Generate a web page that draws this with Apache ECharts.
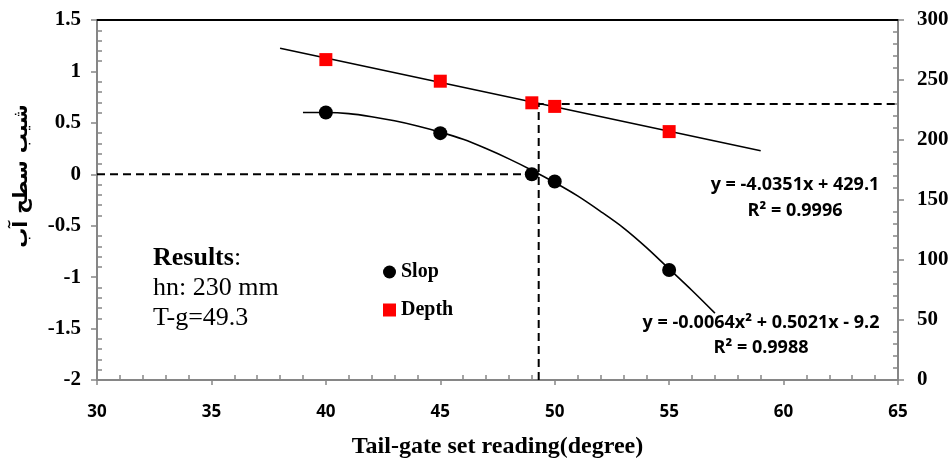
<!DOCTYPE html>
<html><head><meta charset="utf-8">
<script src="https://cdn.jsdelivr.net/npm/echarts@6/dist/echarts.min.js"></script>
<style>html,body{margin:0;padding:0;background:#fff}#c{width:952px;height:460px}</style>
</head><body><div id="c"></div>
<script>
// ---- data ----
const xVals = [40, 45, 49, 50, 55];
const slopVals = [0.6, 0.4, 0, -0.07, -0.93];
const depthVals = [267, 249, 231, 228, 207];
const slopFitX = [39, 40, 41, 42, 43, 44, 45, 46, 47, 48, 49, 50, 51, 52, 53, 54, 55, 56, 57];
const slopFitY = [0.6, 0.6, 0.59, 0.56, 0.52, 0.47, 0.41, 0.34, 0.25, 0.15, 0.04, -0.08, -0.21, -0.36, -0.52, -0.71, -0.92, -1.13, -1.35];
const depthFitX = [38, 59];
const depthFitY = [276.5, 191];
const refX = 49.3, refSlope = 0, refDepth = 230;
const xTicks = {min: 30, max: 65, interval: 5};
const slopTicks = {min: -2, max: 1.5, interval: 0.5};
const depthTicks = {min: 0, max: 300, interval: 50};
const eqDepth = ['y = -4.0351x + 429.1', 'R² = 0.9996'];
const eqSlop = ['y = -0.0064x² + 0.5021x - 9.2', 'R² = 0.9988'];

const zip = (a, b) => a.map((v, i) => [v, b[i]]);
const gray = '#868686';
const serif = '"Liberation Serif","Times New Roman",serif';
const sans = '"Open Sans",sans-serif';
const eqFont = 'bold 18px "Open Sans"';

const chart = echarts.init(document.getElementById('c'));
const dashed = {color: '#000', width: 2, type: [8, 5]};
chart.setOption({
  animation: false,
  grid: {left: 97, right: 54, top: 20, bottom: 80, containLabel: false, outerBoundsMode: 'none'},
  legend: {
    orient: 'vertical', left: 378, top: 257, itemWidth: 13, itemHeight: 13, itemGap: 18,
    data: ['Slop', 'Depth'],
    textStyle: {fontFamily: serif, fontWeight: 'bold', fontSize: 20, color: '#000'}
  },
  xAxis: [
    {type: 'value', min: xTicks.min, max: xTicks.max, interval: xTicks.interval, position: 'bottom',
     axisLine: {onZero: false, lineStyle: {color: gray, width: 2}},
     axisTick: {show: true, length: 5, lineStyle: {color: gray, width: 1.5}},
     axisLabel: {margin: 24, fontFamily: sans, fontWeight: 'bold', fontSize: 17, color: '#000'},
     splitLine: {show: false},
     name: 'Tail-gate set reading(degree)', nameLocation: 'middle', nameGap: 55,
     nameTextStyle: {fontFamily: serif, fontWeight: 'bold', fontSize: 24, color: '#000'}},
    {type: 'value', min: xTicks.min, max: xTicks.max, interval: xTicks.interval, position: 'bottom',
     axisLine: {show: false, onZero: false}, axisLabel: {show: false},
     axisTick: {show: false, inside: true},
     minorTick: {show: true, splitNumber: 5, length: 5, lineStyle: {color: gray, width: 1.5}},
     splitLine: {show: false}},
    {type: 'value', min: xTicks.min, max: xTicks.max, interval: xTicks.interval, position: 'top',
     axisLine: {show: true, onZero: false, lineStyle: {color: '#000', width: 2}},
     axisLabel: {show: false}, axisTick: {show: false}, splitLine: {show: false}}
  ],
  yAxis: [
    {type: 'value', min: slopTicks.min, max: slopTicks.max, interval: slopTicks.interval, position: 'left',
     axisLine: {show: true, onZero: false, lineStyle: {color: gray, width: 2}},
     axisTick: {show: true, length: 6, lineStyle: {color: gray, width: 1.5}},
     axisLabel: {margin: 16, fontFamily: serif, fontWeight: 'bold', fontSize: 21, color: '#000'},
     splitLine: {show: false}},
    {type: 'value', min: slopTicks.min, max: slopTicks.max, interval: slopTicks.interval, position: 'left',
     axisLine: {show: false, onZero: false}, axisLabel: {show: false},
     axisTick: {show: false, inside: true},
     minorTick: {show: true, splitNumber: 5, length: 5, lineStyle: {color: gray, width: 1.5}},
     splitLine: {show: false}},
    {type: 'value', min: depthTicks.min, max: depthTicks.max, interval: depthTicks.interval, position: 'right',
     axisLine: {show: true, onZero: false, lineStyle: {color: gray, width: 2}},
     axisTick: {show: true, length: 6, lineStyle: {color: gray, width: 1.5}},
     axisLabel: {margin: 19, fontFamily: serif, fontWeight: 'bold', fontSize: 21, color: '#000'},
     splitLine: {show: false}},
    {type: 'value', min: depthTicks.min, max: depthTicks.max, interval: depthTicks.interval, position: 'right',
     axisLine: {show: false, onZero: false}, axisLabel: {show: false},
     axisTick: {show: false, inside: true},
     minorTick: {show: true, splitNumber: 5, length: 5, lineStyle: {color: gray, width: 1.5}},
     splitLine: {show: false}}
  ],
  series: [
    {name: 'SlopFit', type: 'line', xAxisIndex: 0, yAxisIndex: 0, data: zip(slopFitX, slopFitY),
     smooth: 0.3, showSymbol: false, lineStyle: {color: '#000', width: 1.6}, z: 2},
    {name: 'DepthFit', type: 'line', xAxisIndex: 0, yAxisIndex: 2, data: zip(depthFitX, depthFitY),
     showSymbol: false, lineStyle: {color: '#000', width: 1.6}, z: 2},
    {name: 'ref1', type: 'line', xAxisIndex: 0, yAxisIndex: 0,
     data: [[xTicks.min, refSlope], [refX, refSlope]], showSymbol: false, lineStyle: dashed, z: 1},
    {name: 'ref2', type: 'line', xAxisIndex: 0, yAxisIndex: 2,
     data: [[refX, depthTicks.min], [refX, refDepth], [xTicks.max, refDepth]], showSymbol: false, lineStyle: dashed, z: 1},
    {name: 'Slop', type: 'scatter', xAxisIndex: 0, yAxisIndex: 0, data: zip(xVals, slopVals),
     symbol: 'circle', symbolSize: 14, itemStyle: {color: '#000', opacity: 1}, z: 5},
    {name: 'Depth', type: 'scatter', xAxisIndex: 0, yAxisIndex: 2, data: zip(xVals, depthVals),
     symbol: 'rect', symbolSize: 13, itemStyle: {color: '#ff0000', opacity: 1}, z: 5}
  ],
  graphic: [
    {type: 'text', x: 22, y: 176, rotation: Math.PI / 2,
     style: {text: 'شیب سطح آب', font: 'bold 20px "DejaVu Sans"', fill: '#000', textAlign: 'center', textVerticalAlign: 'middle'}},
    {type: 'text', x: 153, y: 288, style: {
      text: '{b|Results}{n|:}\n{n|hn: 230 mm}\n{n|T-g=49.3}', textVerticalAlign: 'middle',
      rich: {b: {fontFamily: serif, fontWeight: 'bold', fontSize: 26, lineHeight: 30, fill: '#000'},
             n: {fontFamily: serif, fontSize: 26, lineHeight: 30, fill: '#000'}}}},
    {type: 'text', x: 795, y: 185, style: {text: eqDepth[0], font: eqFont, fill: '#000', textAlign: 'center', textVerticalAlign: 'middle'}},
    {type: 'text', x: 795, y: 211, style: {text: eqDepth[1], font: eqFont, fill: '#000', textAlign: 'center', textVerticalAlign: 'middle'}},
    {type: 'text', x: 761, y: 323, style: {text: eqSlop[0], font: eqFont, fill: '#000', textAlign: 'center', textVerticalAlign: 'middle'}},
    {type: 'text', x: 761, y: 348, style: {text: eqSlop[1], font: eqFont, fill: '#000', textAlign: 'center', textVerticalAlign: 'middle'}}
  ]
});
</script></body></html>
